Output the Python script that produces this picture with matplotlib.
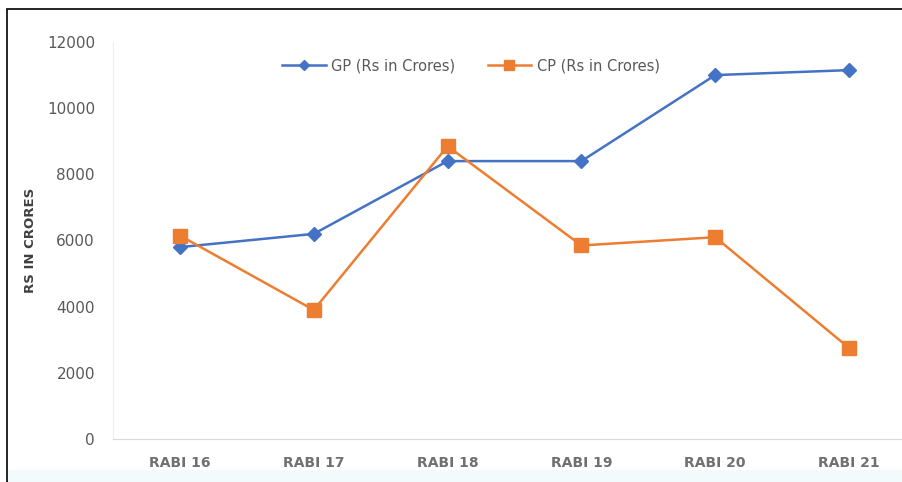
import matplotlib.pyplot as plt
from matplotlib.patches import Rectangle
from matplotlib.lines import Line2D

# chart data
seasons = ["RABI 16", "RABI 17", "RABI 18", "RABI 19", "RABI 20", "RABI 21"]
gp_values = [5800, 6200, 8400, 8400, 11000, 11150]
cp_values = [6150, 3900, 8850, 5850, 6100, 2750]
y_ticks = [0, 2000, 4000, 6000, 8000, 10000, 12000]

plt.rcParams['font.family'] = ['DejaVu Sans']

fig = plt.figure(figsize=(9.03, 4.82), dpi=100)
W, H = 903, 482

# frame of the pasted chart (cropped on the right)
fig.patches.append(Rectangle((7 / W, 0), 1.2, 1 - 9 / H, transform=fig.transFigure,
                             facecolor='white', edgecolor='black', linewidth=1.2,
                             zorder=-10))
fig.patches.append(Rectangle((8 / W, 0), 1.2, 12 / H, transform=fig.transFigure,
                             facecolor='#f2fafc', edgecolor='none', zorder=-9))

# plot area runs past the right edge like in the screenshot
ax = fig.add_axes([113 / W, (H - 439) / H, 803 / W, (439 - 42) / H])
ax.set_facecolor('none')

x = list(range(len(seasons)))
ax.plot(x, gp_values, color='#4472C4', linewidth=1.8, marker='D', markersize=7,
        label='GP (Rs in Crores)')
ax.plot(x, cp_values, color='#ED7D31', linewidth=1.8, marker='s', markersize=9.5,
        label='CP (Rs in Crores)')

ax.set_xlim(-0.5, len(seasons) - 0.5)
ax.set_ylim(0, 12000)
ax.set_yticks(y_ticks)
ax.set_yticklabels([str(v) for v in y_ticks])
ax.set_xticks(x)
ax.set_xticklabels(seasons)
ax.tick_params(axis='y', length=0, colors='#595959', labelsize=11, pad=13)
ax.tick_params(axis='x', length=0, colors='#707070', labelsize=10, pad=12)
for lbl in ax.get_xticklabels():
    lbl.set_fontweight('bold')

for side in ['top', 'right']:
    ax.spines[side].set_visible(False)
ax.spines['left'].set_color('#eeeeee')
ax.spines['bottom'].set_color('#d9d9d9')

fig.text(31 / W, 1 - 240 / H, 'RS IN CRORES', rotation=90, ha='center', va='center',
         fontsize=9.5, fontweight='bold', color='#404040')

handles = [Line2D([], [], color='#4472C4', linewidth=1.8, marker='D', markersize=5.5),
           Line2D([], [], color='#ED7D31', linewidth=1.8, marker='s', markersize=7.5)]
fig.legend(handles, ['GP (Rs in Crores)', 'CP (Rs in Crores)'], ncol=2, frameon=False,
           loc='center', bbox_to_anchor=(471 / W, 1 - 66 / H), fontsize=10.5,
           labelcolor='#595959', handlelength=3.0, columnspacing=2.2, handletextpad=0.4)

fig.savefig('out.png', dpi=100)
